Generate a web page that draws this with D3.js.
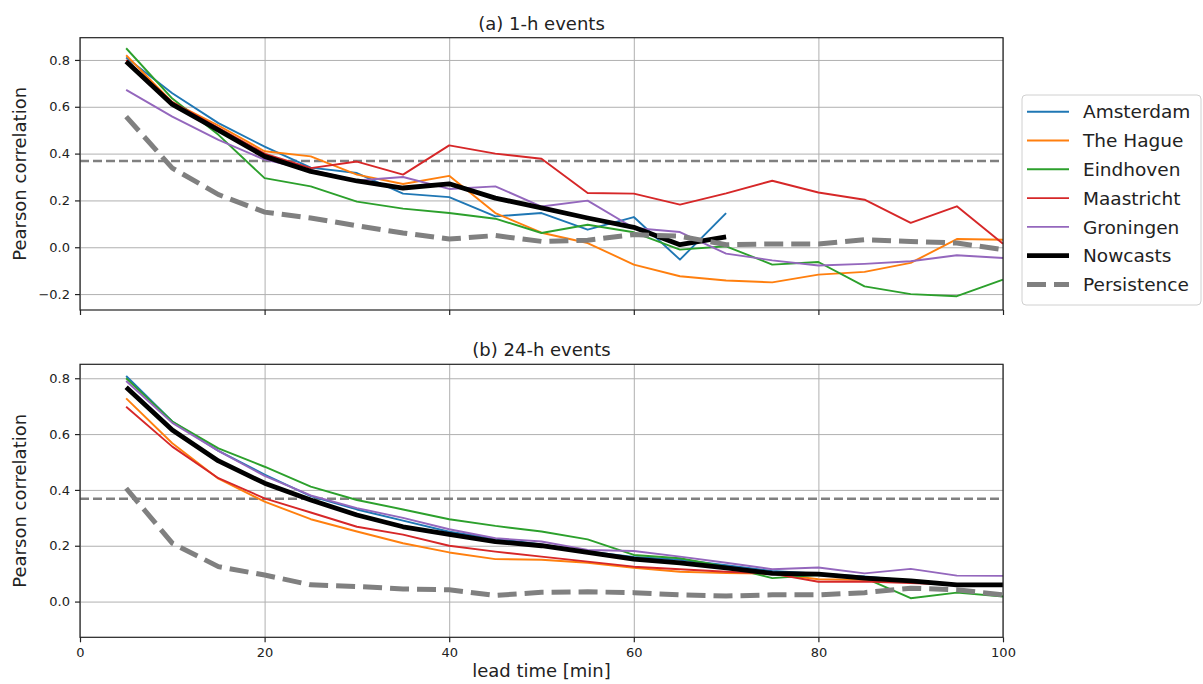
<!DOCTYPE html>
<html>
<head>
	<meta charset="utf-8">
	<title>Pearson correlation vs lead time</title>
	<script src="https://d3js.org/d3.v7.min.js"></script>
	<style>
		body { margin: 0; background: #fff; }
		text { font-family: "DejaVu Sans", sans-serif; fill: #222; }
	</style>
</head>
<body>
</body>
<script>
	// lead times (min)
	var leadTimes = [5,10,15,20,25,30,35,40,45,50,55,60,65,70,75,80,85,90,95,100];

	var cities = ["Amsterdam","The Hague","Eindhoven","Maastricht","Groningen"];
	var cityColors = ["#1f77b4","#ff7f0e","#2ca02c","#d62728","#9467bd"];

	// (a) 1-h events
	var ams1h = [0.81,0.658,0.53,0.43,0.34,0.317,0.229,0.214,0.132,0.146,0.075,0.129,-0.053,0.146];
	var hag1h = [0.82,0.62,0.52,0.41,0.388,0.31,0.27,0.305,0.146,0.062,0.018,-0.074,-0.124,-0.142,-0.15,-0.117,-0.105,-0.067,0.035,0.032];
	var ein1h = [0.85,0.635,0.48,0.295,0.26,0.195,0.165,0.146,0.122,0.061,0.096,0.064,-0.01,0.004,-0.074,-0.063,-0.167,-0.2,-0.209,-0.138];
	var maa1h = [0.80,0.62,0.51,0.40,0.338,0.366,0.31,0.435,0.40,0.378,0.232,0.229,0.182,0.23,0.284,0.234,0.203,0.104,0.175,0.015];
	var gro1h = [0.672,0.558,0.459,0.374,0.33,0.285,0.30,0.249,0.26,0.174,0.199,0.082,0.065,-0.027,-0.056,-0.078,-0.071,-0.06,-0.034,-0.046];
	var now1h = [0.793,0.61,0.50,0.388,0.324,0.283,0.253,0.271,0.21,0.168,0.125,0.085,0.011,0.044];
	var per1h = [0.558,0.338,0.225,0.15,0.125,0.092,0.061,0.035,0.05,0.025,0.03,0.054,0.047,0.011,0.014,0.014,0.032,0.025,0.018,-0.01];

	// (b) 24-h events
	var ams24h = [0.808,0.645,0.54,0.455,0.378,0.33,0.29,0.25,0.225,0.205,0.18,0.16,0.15,0.13,0.11,0.10,0.09,0.075,0.062,0.06];
	var hag24h = [0.728,0.567,0.44,0.358,0.295,0.251,0.209,0.176,0.152,0.15,0.139,0.121,0.107,0.102,0.10,0.08,0.078,0.07,0.062,0.06];
	var ein24h = [0.80,0.645,0.549,0.483,0.412,0.364,0.33,0.295,0.271,0.251,0.223,0.167,0.155,0.125,0.084,0.095,0.085,0.012,0.032,0.018];
	var maa24h = [0.698,0.555,0.442,0.37,0.319,0.268,0.24,0.20,0.179,0.161,0.143,0.125,0.116,0.107,0.10,0.071,0.072,0.066,0.06,0.06];
	var gro24h = [0.79,0.64,0.54,0.45,0.38,0.335,0.30,0.259,0.227,0.215,0.185,0.181,0.161,0.139,0.116,0.122,0.101,0.117,0.093,0.092];
	var now24h = [0.768,0.615,0.504,0.424,0.364,0.31,0.268,0.241,0.215,0.20,0.176,0.152,0.139,0.121,0.101,0.098,0.084,0.074,0.06,0.06];
	var per24h = [0.406,0.209,0.125,0.095,0.06,0.054,0.045,0.042,0.022,0.033,0.035,0.032,0.024,0.02,0.024,0.024,0.032,0.048,0.042,0.024];

	var refLevel = 0.368; // 1/e
	var xTicks = [0,20,40,60,80,100];
	var yTicks1h = [-0.2,0,0.2,0.4,0.6,0.8];
	var yTicks24h = [0,0.2,0.4,0.6,0.8];

	var W = 1203, H = 684;
	var left = 80, right = 1003;

	var svg = d3.select("body").append("svg").attr("width",W).attr("height",H);

	var x = d3.scaleLinear().domain([0,100]).range([left,right]);

	var panels = [
		{title:"(a) 1-h events", top:37.7, bottom:310, ydom:[-0.268,0.895], yticks:yTicks1h,
		 cities:[ams1h,hag1h,ein1h,maa1h,gro1h], now:now1h, per:per1h, xlabels:false},
		{title:"(b) 24-h events", top:364.3, bottom:637.3, ydom:[-0.128,0.85], yticks:yTicks24h,
		 cities:[ams24h,hag24h,ein24h,maa24h,gro24h], now:now24h, per:per24h, xlabels:true}
	];

	function toPts(arr) {
		var pts = [];
		for (var i = 0; i < arr.length; i++) pts.push([leadTimes[i], arr[i]]);
		return pts;
	}

	panels.forEach(function(p){
		var y = d3.scaleLinear().domain(p.ydom).range([p.bottom,p.top]);
		var g = svg.append("g");

		// grid
		g.append("g").attr("transform","translate(0,"+p.bottom+")")
			.call(d3.axisBottom(x).tickValues(xTicks).tickSize(-(p.bottom-p.top)).tickFormat(""))
			.call(function(s){ s.select(".domain").remove(); s.selectAll("line").attr("stroke","#b0b0b0").attr("stroke-width",1); });
		g.append("g").attr("transform","translate("+left+",0)")
			.call(d3.axisLeft(y).tickValues(p.yticks).tickSize(-(right-left)).tickFormat(""))
			.call(function(s){ s.select(".domain").remove(); s.selectAll("line").attr("stroke","#b0b0b0").attr("stroke-width",1); });

		var line = d3.line().x(function(d){return x(d[0]);}).y(function(d){return y(d[1]);});

		// reference line
		g.append("line").attr("x1",x(0)).attr("x2",x(100)).attr("y1",y(refLevel)).attr("y2",y(refLevel))
			.attr("stroke","#808080").attr("stroke-width",2.5).attr("stroke-dasharray","9,4");

		p.cities.forEach(function(arr,i){
			g.append("path").datum(toPts(arr)).attr("d",line).attr("fill","none")
				.attr("stroke",cityColors[i]).attr("stroke-width",1.9).attr("stroke-linejoin","round");
		});
		g.append("path").datum(toPts(p.now)).attr("d",line).attr("fill","none")
			.attr("stroke","#000").attr("stroke-width",4.8).attr("stroke-linejoin","round");
		g.append("path").datum(toPts(p.per)).attr("d",line).attr("fill","none")
			.attr("stroke","#808080").attr("stroke-width",5).attr("stroke-dasharray","19,8");

		// axes
		var xa = g.append("g").attr("transform","translate(0,"+p.bottom+")")
			.call(d3.axisBottom(x).tickValues(xTicks).tickSize(5).tickPadding(5)
				.tickFormat(p.xlabels ? d3.format("d") : ""));
		var ya = g.append("g").attr("transform","translate("+left+",0)")
			.call(d3.axisLeft(y).tickValues(p.yticks).tickSize(5).tickPadding(5)
				.tickFormat(function(d){ return d3.format(".1f")(d).replace("-","\u2212"); }));
		[xa,ya].forEach(function(a){
			a.select(".domain").remove();
			a.selectAll("line").attr("stroke","#222").attr("stroke-width",1.2);
			a.selectAll("text").attr("font-size","13px").attr("font-family","DejaVu Sans").attr("fill","#222");
		});

		// frame
		g.append("rect").attr("x",left).attr("y",p.top).attr("width",right-left).attr("height",p.bottom-p.top)
			.attr("fill","none").attr("stroke","#222").attr("stroke-width",1.2);

		g.append("text").attr("x",(left+right)/2).attr("y",p.top-8).attr("text-anchor","middle")
			.attr("font-size","18px").text(p.title);

		g.append("text").attr("transform","translate(26,"+((p.top+p.bottom)/2)+") rotate(-90)")
			.attr("text-anchor","middle").attr("font-size","18px").text("Pearson correlation");
	});

	svg.append("text").attr("x",(left+right)/2).attr("y",677).attr("text-anchor","middle")
		.attr("font-size","18px").text("lead time [min]");

	// legend
	var legNames = cities.concat(["Nowcasts","Persistence"]);
	var leg = svg.append("g");
	leg.append("rect").attr("x",1022).attr("y",95).attr("width",179).attr("height",210).attr("rx",4)
		.attr("fill","#fff").attr("stroke","#d0d0d0").attr("stroke-width",1);
	legNames.forEach(function(name,i){
		var cy = 111.7 + i*28.8;
		var l = leg.append("line").attr("x1",1027).attr("x2",1069).attr("y1",cy).attr("y2",cy);
		if (i < 5) l.attr("stroke",cityColors[i]).attr("stroke-width",1.9);
		else if (i == 5) l.attr("stroke","#000").attr("stroke-width",4.8);
		else l.attr("stroke","#808080").attr("stroke-width",5).attr("stroke-dasharray","19,8");
		leg.append("text").attr("x",1083).attr("y",cy).attr("dy","0.36em").attr("font-size","18.5px").text(name);
	});
</script>
</html>
